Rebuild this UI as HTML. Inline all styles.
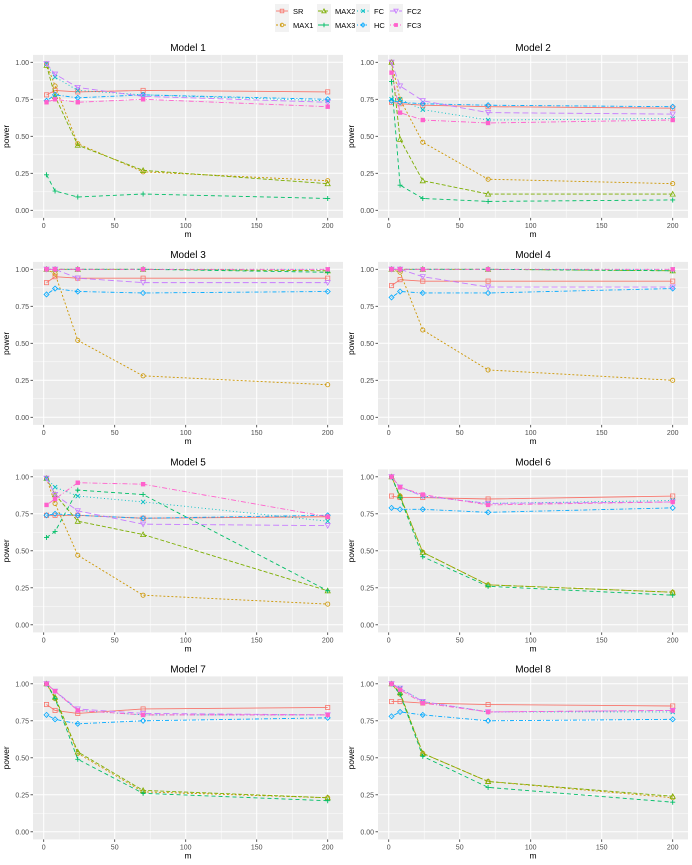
<!DOCTYPE html>
<html><head><meta charset="utf-8">
<style>
body{margin:0;background:#fff;}
svg{display:block;font-family:"Liberation Sans",sans-serif;}
</style></head>
<body>
<svg id="chart" width="692" height="865" xmlns="http://www.w3.org/2000/svg"></svg>
<script>
const mValues = [2, 8, 24, 70, 200];
const seriesNames = ["SR","MAX1","MAX2","MAX3","FC","HC","FC2","FC3"];
const modelTitles = ["Model 1","Model 2","Model 3","Model 4","Model 5","Model 6","Model 7","Model 8"];
const yTickLabels = ["0.00","0.25","0.50","0.75","1.00"];
const yTickValues = [0,0.25,0.5,0.75,1];
const xTickValues = [0,50,100,150,200];
const m1SR=[.78,.81,.80,.81,.80], m1MAX1=[.99,.84,.45,.26,.20], m1MAX2=[.98,.77,.44,.27,.18], m1MAX3=[.24,.13,.09,.11,.08], m1FC=[.99,.90,.81,.78,.74], m1HC=[.74,.78,.76,.78,.75], m1FC2=[.99,.92,.83,.77,.73], m1FC3=[.73,.75,.73,.75,.70];
const m2SR=[.73,.72,.71,.70,.69], m2MAX1=[1.0,.75,.46,.21,.18], m2MAX2=[1.0,.48,.20,.11,.11], m2MAX3=[.87,.17,.08,.06,.07], m2FC=[.75,.75,.68,.61,.62], m2HC=[.74,.73,.72,.71,.70], m2FC2=[1.0,.84,.74,.66,.65], m2FC3=[.93,.66,.61,.59,.61];
const m3SR=[.91,.95,.94,.94,.94], m3MAX1=[1.0,.97,.52,.28,.22], m3MAX2=[1,1,1,1,.99], m3MAX3=[1,1,1,1,.98], m3FC=[1,1,1,1,1], m3HC=[.83,.87,.85,.84,.85], m3FC2=[1.0,1.0,.94,.91,.91], m3FC3=[1,1,1,1,1];
const m4SR=[.89,.93,.92,.92,.92], m4MAX1=[1.0,.98,.59,.32,.25], m4MAX2=[1,1,1,1,.99], m4MAX3=[1,1,1,1,.99], m4FC=[1,1,1,1,1], m4HC=[.81,.85,.84,.84,.87], m4FC2=[1.0,1.0,.95,.88,.88], m4FC3=[1,1,1,1,1];
const m5SR=[.74,.74,.74,.72,.73], m5MAX1=[.99,.82,.47,.20,.14], m5MAX2=[.99,.88,.70,.61,.23], m5MAX3=[.59,.63,.91,.88,.23], m5FC=[.99,.93,.87,.83,.70], m5HC=[.74,.75,.74,.72,.74], m5FC2=[.99,.88,.77,.68,.67], m5FC3=[.81,.85,.96,.95,.73];
const m6SR=[.87,.86,.86,.85,.87], m6MAX1=[1.0,.87,.49,.27,.22], m6MAX2=[1.0,.87,.49,.27,.22], m6MAX3=[1.0,.86,.46,.26,.20], m6FC=[1.0,.93,.87,.82,.84], m6HC=[.79,.78,.78,.76,.79], m6FC2=[1.0,.93,.87,.82,.83], m6FC3=[1.0,.93,.88,.81,.83];
const m7SR=[.86,.82,.80,.83,.84], m7MAX1=[1.0,.90,.53,.27,.23], m7MAX2=[1.0,.91,.54,.28,.23], m7MAX3=[1.0,.90,.49,.26,.21], m7FC=[1.0,.95,.82,.79,.79], m7HC=[.79,.76,.73,.75,.77], m7FC2=[1.0,.95,.83,.80,.79], m7FC3=[1.0,.95,.82,.79,.79];
const m8SR=[.88,.88,.87,.86,.85], m8MAX1=[1.0,.93,.53,.34,.23], m8MAX2=[1.0,.94,.53,.34,.24], m8MAX3=[1.0,.93,.51,.30,.20], m8FC=[1.0,.97,.88,.81,.81], m8HC=[.78,.81,.79,.75,.76], m8FC2=[1.0,.97,.88,.81,.82], m8FC3=[1.0,.96,.87,.81,.82];
const models = [
 [m1SR,m1MAX1,m1MAX2,m1MAX3,m1FC,m1HC,m1FC2,m1FC3],
 [m2SR,m2MAX1,m2MAX2,m2MAX3,m2FC,m2HC,m2FC2,m2FC3],
 [m3SR,m3MAX1,m3MAX2,m3MAX3,m3FC,m3HC,m3FC2,m3FC3],
 [m4SR,m4MAX1,m4MAX2,m4MAX3,m4FC,m4HC,m4FC2,m4FC3],
 [m5SR,m5MAX1,m5MAX2,m5MAX3,m5FC,m5HC,m5FC2,m5FC3],
 [m6SR,m6MAX1,m6MAX2,m6MAX3,m6FC,m6HC,m6FC2,m6FC3],
 [m7SR,m7MAX1,m7MAX2,m7MAX3,m7FC,m7HC,m7FC2,m7FC3],
 [m8SR,m8MAX1,m8MAX2,m8MAX3,m8FC,m8HC,m8FC2,m8FC3]
];

const colors=["#F8766D","#CD9600","#7CAE00","#00BE67","#00BFC4","#00A9FF","#C77CFF","#FF61CC"];
const dashes=["","2,2","4,2","4,3","1,2.5","1,2,4,2","6,3","1,2,5,2"];
const NS="http://www.w3.org/2000/svg";
const svg=document.getElementById('chart');
function el(tag,attrs,parent){const e=document.createElementNS(NS,tag);for(const k in attrs)e.setAttribute(k,attrs[k]);(parent||svg).appendChild(e);return e;}

function marker(g,i,x,y,c,s){
  s=s||2.1;let e;
  if(i===0){e=el('rect',{x:x-s,y:y-s,width:2*s,height:2*s,fill:'none',stroke:c,'stroke-width':0.8},g);}
  else if(i===1){e=el('circle',{cx:x,cy:y,r:s,fill:'none',stroke:c,'stroke-width':0.8},g);}
  else if(i===2){e=el('path',{d:`M${x},${y-s-0.4}L${x+s+0.4},${y+s}L${x-s-0.4},${y+s}Z`,fill:'none',stroke:c,'stroke-width':0.8},g);}
  else if(i===3){e=el('path',{d:`M${x-s-0.4},${y}H${x+s+0.4}M${x},${y-s-0.4}V${y+s+0.4}`,stroke:c,'stroke-width':0.9},g);}
  else if(i===4){e=el('path',{d:`M${x-s},${y-s}L${x+s},${y+s}M${x+s},${y-s}L${x-s},${y+s}`,stroke:c,'stroke-width':0.9},g);}
  else if(i===5){e=el('path',{d:`M${x},${y-s-0.4}L${x+s+0.4},${y}L${x},${y+s+0.4}L${x-s-0.4},${y}Z`,fill:'none',stroke:c,'stroke-width':0.8},g);}
  else if(i===6){e=el('path',{d:`M${x},${y+s+0.4}L${x+s+0.4},${y-s}L${x-s-0.4},${y-s}Z`,fill:'none',stroke:c,'stroke-width':0.8},g);}
  else {e=el('rect',{x:x-s+0.3,y:y-s+0.3,width:2*s-0.6,height:2*s-0.6,fill:c,stroke:c,'stroke-width':0.8},g);}
  
  
}

// legend
const lg=el('g',{});


const legCols=[275,317,356,389];
for(let i=0;i<8;i++){
  const col=Math.floor(i/2), row=i%2;
  const kx=legCols[col], ky=4+row*14;
  const item=el('g',{},lg);
  
  
  el('rect',{x:kx,y:ky,width:14,height:14,fill:'#F2F2F2'},item);
  el('line',{x1:kx+1,y1:ky+7,x2:kx+13,y2:ky+7,stroke:colors[i],'stroke-width':0.9,'stroke-dasharray':dashes[i]},item);
  marker(item,i,kx+7,ky+7,colors[i],1.8);
  const t=el('text',{x:kx+18,y:ky+10,'font-size':7.5,fill:'#000'},item);
  t.textContent=seriesNames[i];
}

const colLeft=[33,378], panelW=310, panelH=163;
const y1s=[62.3,269.3,476.8,683.8];
for(let p=0;p<8;p++){
  const col=p%2,row=Math.floor(p/2);
  const L=colLeft[col], T=y1s[row]-7.4;
  const xs=v=>L+10.7+v*1.42;
  const ys=v=>y1s[row]+(1-v)*148;
  const g=el('g',{});
  
  
  el('rect',{x:L,y:T,width:panelW,height:panelH,fill:'#EBEBEB'},g);
  for(let k=0;k<4;k++){const v=0.125+k*0.25;el('line',{x1:L,x2:L+panelW,y1:ys(v),y2:ys(v),stroke:'#fff','stroke-width':0.5},g);}
  for(let k=0;k<4;k++){const v=25+k*50;el('line',{x1:xs(v),x2:xs(v),y1:T,y2:T+panelH,stroke:'#fff','stroke-width':0.5},g);}
  yTickValues.forEach((v,k)=>{
    el('line',{x1:L,x2:L+panelW,y1:ys(v),y2:ys(v),stroke:'#fff','stroke-width':1},g);
    el('line',{x1:L-2.5,x2:L,y1:ys(v),y2:ys(v),stroke:'#333','stroke-width':0.8},g);
    const t=el('text',{x:L-4,y:ys(v)+2.6,'font-size':7,fill:'#4D4D4D','text-anchor':'end'},g);
    
    
    t.textContent=yTickLabels[k];
  });
  xTickValues.forEach(v=>{
    el('line',{x1:xs(v),x2:xs(v),y1:T,y2:T+panelH,stroke:'#fff','stroke-width':1},g);
    el('line',{x1:xs(v),x2:xs(v),y1:T+panelH,y2:T+panelH+2.5,stroke:'#333','stroke-width':0.8},g);
    const t=el('text',{x:xs(v),y:T+panelH+10,'font-size':7,fill:'#4D4D4D','text-anchor':'middle'},g);
    
    
    t.textContent=String(v);
  });
  const title=el('text',{x:L+panelW/2,y:T-4,'font-size':10,fill:'#000','text-anchor':'middle'},g);
  
  
  title.textContent=modelTitles[p];
  const xl=el('text',{x:L+panelW/2,y:T+panelH+19,'font-size':8.5,fill:'#000','text-anchor':'middle'},g);
  
  
  xl.textContent='m';
  const yx=L-24, yy=T+panelH/2;
  const yl=el('text',{x:yx,y:yy,'font-size':8.5,fill:'#000','text-anchor':'middle',transform:`rotate(-90 ${yx} ${yy})`},g);
  
  
  yl.textContent='power';
  models[p].forEach((vals,i)=>{
    const sg=el('g',{},g);
    
    
    const pts=vals.map((v,k)=>xs(mValues[k])+','+ys(v)).join(' ');
    const pl=el('polyline',{points:pts,fill:'none',stroke:colors[i],'stroke-width':0.9,'stroke-dasharray':dashes[i]},sg);
    
    
    vals.forEach((v,k)=>marker(sg,i,xs(mValues[k]),ys(v),colors[i]));
  });
}
</script>
</body></html>
